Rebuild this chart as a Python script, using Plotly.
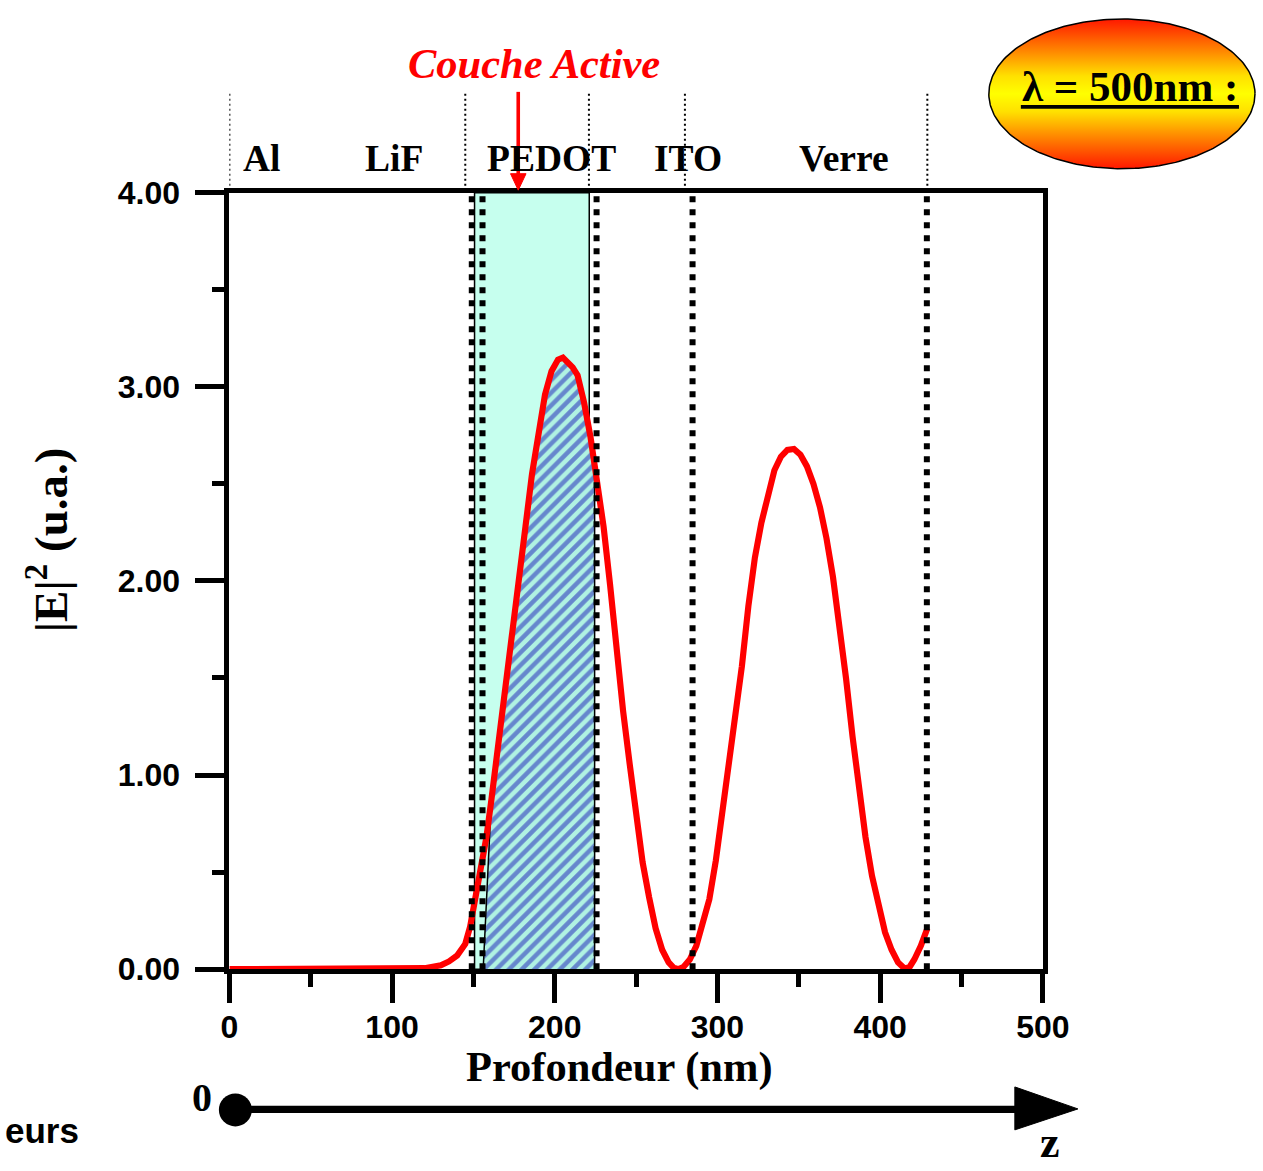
import numpy as np
import plotly.graph_objects as go

# ---------------- data ----------------
depth_nm = [0, 50, 100, 120, 130, 135, 140, 145, 148, 151, 153, 155.6, 158, 161, 164, 167,
            170, 174, 178, 182, 186, 190, 194, 198, 202, 205, 208, 211, 214, 218, 222, 226,
            230, 234, 238, 242, 246, 250, 254, 258, 262, 266, 270, 273, 276, 279, 283, 287,
            291, 295, 299, 303, 307, 311, 315, 319, 323, 327, 331, 335, 339, 343, 347, 351,
            355, 359, 363, 367, 371, 375, 379, 383, 387, 391, 395, 399, 403, 407, 411, 415,
            418, 421, 425, 429]
intensity = [0, 0, 0, 0.005, 0.02, 0.04, 0.07, 0.13, 0.22, 0.36, 0.44, 0.53, 0.68, 0.87, 1.08, 1.28,
             1.48, 1.75, 2.02, 2.28, 2.55, 2.78, 2.96, 3.08, 3.14, 3.15, 3.13, 3.1, 3.06, 2.92, 2.74, 2.53,
             2.28, 1.98, 1.64, 1.33, 1.06, 0.78, 0.55, 0.37, 0.21, 0.1, 0.035, 0.008, 0.0, 0.01, 0.05, 0.12,
             0.23, 0.36, 0.56, 0.8, 1.05, 1.33, 1.56, 1.87, 2.12, 2.3, 2.45, 2.57, 2.64, 2.675, 2.68, 2.65,
             2.59, 2.5, 2.38, 2.22, 2.02, 1.77, 1.5, 1.2, 0.92, 0.68, 0.48, 0.32, 0.19, 0.1, 0.035, 0.003,
             0.01, 0.05, 0.12, 0.21]

interfaces_nm = [149, 155.6, 225.7, 284.7, 428.7]      # thick dotted lines
layer_marks_nm = [0, 145, 221, 280, 429]               # thin dotted lines above the frame
active_layer_nm = [150.7, 221.2]                        # cyan band
hatch_nm = [156, 224.5]                                 # hatched absorbed part
layer_names = ["Al", "LiF", "PEDOT", "ITO", "Verre"]
layer_label_x = [20, 101, 198, 282, 378]
x_range = [0, 500]
y_range = [0, 4]

# page geometry: the photographed page is shown at scale S with the plot div offset by (OX, OY)
S = 0.9715
OX, OY = 8, 17.5
FW, FH = 1290, 1186
K = 1 / S
SERIF = "Liberation Serif"
SANS = "Liberation Sans"


def px(X):
    """picture column -> paper fraction"""
    return (X / S - OX) / FW


def py(Y):
    """picture row -> paper fraction"""
    return 1 - (Y / S - OY) / FH


fig = go.Figure()

# hatched area under the curve inside the active layer
end_val = float(np.interp(hatch_nm[1], depth_nm, intensity))
inside = [(x, v) for x, v in zip(depth_nm, intensity) if hatch_nm[0] + 4 < x < hatch_nm[1]]
hx = [hatch_nm[0]] + [p[0] for p in inside] + [hatch_nm[1], hatch_nm[1]]
hy = [0] + [p[1] for p in inside] + [end_val, 0]
fig.add_trace(go.Scatter(
    x=hx, y=hy, mode="lines", fill="toself",
    fillpattern=dict(shape="/", fgcolor="#1c1cb8", bgcolor="#b0f2e2", size=9, solidity=0.5),
    line=dict(color="black", width=1.5), hoverinfo="skip", showlegend=False,
    xaxis="x", yaxis="y"))

# |E|^2 curve
fig.add_trace(go.Scatter(
    x=depth_nm, y=intensity, mode="lines",
    line=dict(color="#ff0000", width=6 * K), showlegend=False,
    xaxis="x", yaxis="y"))

# ---------------- decorations in picture pixels (x2/y2) ----------------
t = np.linspace(0, 2 * np.pi, 240)
fig.add_trace(go.Scatter(
    x=1120 + 133 * np.cos(t), y=93 + 75 * np.sin(t), mode="lines", fill="toself",
    fillgradient=dict(type="vertical", colorscale=[
        [0.0, "#ff1800"], [0.22, "#ff8a00"], [0.38, "#ffe000"], [0.5, "#ffff00"],
        [0.62, "#ffe000"], [0.78, "#ff8a00"], [1.0, "#ff1800"]]),
    line=dict(color="black", width=1.5), hoverinfo="skip", showlegend=False,
    xaxis="x2", yaxis="y2"))

# underline of lambda text
fig.add_trace(go.Scatter(x=[1019, 1237], y=[106, 106], mode="lines",
                         line=dict(color="black", width=3.5 * K), showlegend=False,
                         xaxis="x2", yaxis="y2"))

# red arrow (Couche Active)
fig.add_trace(go.Scatter(x=[516.7, 516.7], y=[91, 176], mode="lines",
                         line=dict(color="#ff0000", width=3.5 * K), showlegend=False,
                         xaxis="x2", yaxis="y2"))
fig.add_trace(go.Scatter(x=[509, 524.5, 516.7, 509], y=[173, 173, 189.5, 173], mode="lines",
                         fill="toself", fillcolor="#ff0000", line=dict(color="#ff0000", width=1),
                         showlegend=False, xaxis="x2", yaxis="y2"))

# z axis arrow at bottom
fig.add_trace(go.Scatter(x=[234, 1020], y=[1110.5, 1110.5], mode="lines",
                         line=dict(color="black", width=7 * K), showlegend=False,
                         xaxis="x2", yaxis="y2"))
fig.add_trace(go.Scatter(x=[1013, 1076, 1013, 1013], y=[1088, 1110, 1131, 1088], mode="lines",
                         fill="toself", fillcolor="black", line=dict(color="black", width=1),
                         showlegend=False, xaxis="x2", yaxis="y2"))
fig.add_trace(go.Scatter(x=[234], y=[1111], mode="markers",
                         marker=dict(color="black", size=32 * K), showlegend=False,
                         xaxis="x2", yaxis="y2"))

# ---------------- shapes ----------------
shapes = []
shapes.append(dict(type="rect", xref="x", yref="y", x0=active_layer_nm[0], x1=active_layer_nm[1],
                   y0=y_range[0], y1=y_range[1], fillcolor="#c6ffee",
                   line=dict(color="black", width=1.5), layer="below"))
for v in interfaces_nm:
    shapes.append(dict(type="line", xref="x", yref="y", x0=v, x1=v, y0=y_range[0], y1=y_range[1],
                       line=dict(color="black", width=6, dash="6px,7px"), layer="above"))
for v in layer_marks_nm:
    shapes.append(dict(type="line", xref="x", yref="paper", x0=v, x1=v,
                       y0=py(190), y1=py(90),
                       line=dict(color="black", width=2, dash="2px,3px"), layer="above"))

# ---------------- annotations ----------------
ann = []


def txt(x, y, s, size, family=SERIF, color="black", weight="bold", style="normal",
        angle=0, xanchor="center", xref="x2", yref="y2", xshift=0):
    ann.append(dict(x=x, y=y, xref=xref, yref=yref, text=s, showarrow=False,
                    xanchor=xanchor, yanchor="middle", textangle=angle, xshift=xshift,
                    font=dict(family=family, size=size, color=color, weight=weight, style=style)))


for name, lx in zip(layer_names, layer_label_x):
    txt(lx, py(158), name, 37.5, xref="x", yref="paper")

txt(532, 63, "Couche Active", 42.5, color="#ff0000", style="italic")
txt(1128, 86, "λ = 500nm :", 43)
txt(618, 1068, "Profondeur (nm)", 42.5)
txt(46, 540, "|E|<sup>2</sup> (u.a.)", 47, angle=-90)
txt(201, 1099, "0", 40)
txt(1048, 1144, "z", 44)
txt(0, py(1132), "eurs", 35, family=SANS, xanchor="left", xref="paper", yref="paper", xshift=-6)

tickfont = dict(family=SANS, size=32, color="black", weight="bold")

fig.update_layout(
    width=FW, height=FH,
    margin=dict(l=0, r=0, t=0, b=0),
    paper_bgcolor="white", plot_bgcolor="rgba(0,0,0,0)",
    showlegend=False,
    shapes=shapes, annotations=ann,
    xaxis=dict(domain=[px(228), px(1041)], range=x_range, anchor="y",
               showline=True, linewidth=5 * K, linecolor="black", mirror=True,
               ticks="outside", ticklen=28 * K, tickwidth=5 * K, tickcolor="black",
               dtick=100, tick0=0, tickfont=tickfont, ticklabelstandoff=-3,
               minor=dict(dtick=50, ticks="outside", ticklen=12 * K, tickwidth=5 * K,
                          tickcolor="black"),
               showgrid=False, zeroline=False),
    yaxis=dict(domain=[py(970), py(192)], range=y_range, anchor="x",
               showline=True, linewidth=5 * K, linecolor="black", mirror=True,
               ticks="outside", ticklen=28 * K, tickwidth=5 * K, tickcolor="black",
               dtick=1, tick0=0, tickformat=".2f", tickfont=tickfont, ticklabelstandoff=9,
               minor=dict(dtick=0.5, ticks="outside", ticklen=12 * K, tickwidth=5 * K,
                          tickcolor="black"),
               showgrid=False, zeroline=False),
    xaxis2=dict(domain=[0, 1], range=[S * OX, S * (FW + OX)], anchor="y2",
                visible=False, fixedrange=True),
    yaxis2=dict(domain=[0, 1], range=[S * (FH + OY), S * OY], anchor="x2",
                visible=False, fixedrange=True),
)

fig.write_html("out.html")
